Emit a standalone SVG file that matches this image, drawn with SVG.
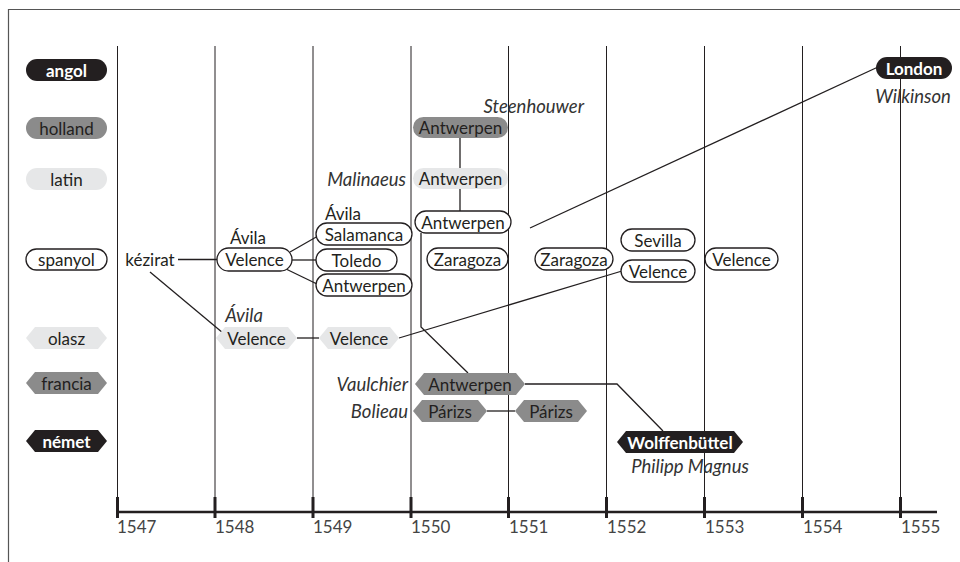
<svg xmlns="http://www.w3.org/2000/svg" width="960" height="562" viewBox="0 0 960 562">
<style>
text{font-family:Lato,"Open Sans","Liberation Sans",sans-serif;font-size:17px;fill:#231f20;dominant-baseline:central;text-anchor:middle}
.it{font-style:italic;fill:#333;font-size:18.5px}
.b{font-weight:bold;fill:#fff}
.yr{text-anchor:start;fill:#444;dominant-baseline:alphabetic}
.blk{fill:#231f20}
.gry{fill:#8b8b8b}
.lgt{fill:#e6e7e8}
.out{fill:#fff;stroke:#231f20;stroke-width:1.3}
.grid{stroke:#231f20;stroke-width:1}
.con{stroke:#231f20;stroke-width:1.3;fill:none}
</style>
<path d="M8.5,562V9.5H960" fill="none" stroke="#555" stroke-width="1.2"/>
<g id="grid">
<g class="grid">
<line x1="117.5" y1="46" x2="117.5" y2="512"/>
<line x1="215" y1="46" x2="215" y2="512"/>
<line x1="313" y1="46" x2="313" y2="512"/>
<line x1="411" y1="46" x2="411" y2="512"/>
<line x1="508.5" y1="46" x2="508.5" y2="512"/>
<line x1="606.5" y1="46" x2="606.5" y2="512"/>
<line x1="704.5" y1="46" x2="704.5" y2="512"/>
<line x1="802.5" y1="46" x2="802.5" y2="512"/>
<line x1="900.5" y1="46" x2="900.5" y2="512"/>
</g>
<line x1="116" y1="512" x2="937" y2="512" stroke="#231f20" stroke-width="2.5"/>
<g stroke="#231f20" stroke-width="3">
<line x1="117.5" y1="497" x2="117.5" y2="518"/>
<line x1="215" y1="497" x2="215" y2="518"/>
<line x1="313" y1="497" x2="313" y2="518"/>
<line x1="411" y1="497" x2="411" y2="518"/>
<line x1="508.5" y1="497" x2="508.5" y2="518"/>
<line x1="606.5" y1="497" x2="606.5" y2="518"/>
<line x1="704.5" y1="497" x2="704.5" y2="518"/>
<line x1="802.5" y1="497" x2="802.5" y2="518"/>
<line x1="900.5" y1="497" x2="900.5" y2="518"/>
</g>
<text class="yr" x="117" y="533">1547</text>
<text class="yr" x="215" y="533">1548</text>
<text class="yr" x="313" y="533">1549</text>
<text class="yr" x="411" y="533">1550</text>
<text class="yr" x="509" y="533">1551</text>
<text class="yr" x="607" y="533">1552</text>
<text class="yr" x="705" y="533">1553</text>
<text class="yr" x="803" y="533">1554</text>
<text class="yr" x="901" y="533">1555</text>
</g>
<g id="connectors" class="con">
<line x1="178" y1="259.5" x2="217" y2="259.5"/>
<line x1="150" y1="272" x2="223" y2="333"/>
<line x1="290" y1="252" x2="318" y2="236"/>
<line x1="292" y1="260" x2="316" y2="260"/>
<line x1="286" y1="269" x2="317" y2="284"/>
<line x1="297" y1="338" x2="319" y2="338"/>
<line x1="399" y1="338" x2="622" y2="271"/>
<line x1="460" y1="138" x2="460" y2="168"/>
<line x1="460" y1="189" x2="460" y2="211"/>
<polyline points="421,233 421,327 468,373"/>
<line x1="530" y1="228" x2="878" y2="67"/>
<line x1="487" y1="411" x2="515" y2="411"/>
<polyline points="525,384 617,384 663,431"/>
</g>
<g id="legend-angol"><rect class="blk" x="26" y="59" width="81" height="22" rx="11"/><text class="b" x="66.5" y="70">angol</text></g>
<g id="legend-holland"><rect class="gry" x="26" y="117" width="81" height="22" rx="11"/><text x="66.5" y="128">holland</text></g>
<g id="legend-latin"><rect class="lgt" x="26" y="168" width="81" height="22" rx="11"/><text x="66.5" y="179">latin</text></g>
<g id="legend-spanyol"><rect class="out" x="26" y="249" width="81" height="21" rx="10.5"/><text x="66.5" y="259.5">spanyol</text></g>
<g id="legend-olasz"><polygon class="lgt" points="26,338 35,327 98,327 107,338 98,349 35,349"/><text x="66.5" y="338">olasz</text></g>
<g id="legend-francia"><polygon class="gry" points="26,383 35,372 98,372 107,383 98,394 35,394"/><text x="66.5" y="383">francia</text></g>
<g id="legend-nemet"><polygon class="blk" points="26,441 35,430 98,430 107,441 98,452 35,452"/><text class="b" x="66.5" y="441">német</text></g>

<g id="kezirat"><text x="150" y="259.5">kézirat</text></g>
<g id="velence-sp-1548"><rect class="out" x="217" y="248" width="75" height="23" rx="11.5"/><text x="254.5" y="259.5">Velence</text><text x="248" y="237">Ávila</text></g>
<g id="salamanca"><rect class="out" x="316" y="223" width="96" height="22" rx="11"/><text x="364" y="234">Salamanca</text><text x="343" y="213">Ávila</text></g>
<g id="toledo"><rect class="out" x="316" y="249" width="81" height="22" rx="11"/><text x="356.5" y="260">Toledo</text></g>
<g id="antwerpen-sp-1549"><rect class="out" x="316" y="274" width="96" height="22" rx="11"/><text x="364" y="285">Antwerpen</text></g>
<g id="antwerpen-holland"><rect class="gry" x="413" y="117" width="95" height="21" rx="10.5"/><text x="460.5" y="127.5">Antwerpen</text><text class="it" x="584" y="106" style="text-anchor:end">Steenhouwer</text></g>
<g id="antwerpen-latin"><rect class="lgt" x="413" y="168" width="95" height="21" rx="10.5"/><text x="460.5" y="178.5">Antwerpen</text><text class="it" x="406" y="179" style="text-anchor:end">Malinaeus</text></g>
<g id="antwerpen-sp-1550"><rect class="out" x="415" y="211" width="96" height="22" rx="11"/><text x="463" y="222">Antwerpen</text></g>
<g id="zaragoza-1550"><rect class="out" x="427" y="248" width="81" height="22" rx="11"/><text x="467.5" y="259">Zaragoza</text></g>
<g id="zaragoza-1551"><rect class="out" x="535" y="248" width="78" height="22" rx="11"/><text x="574" y="259">Zaragoza</text></g>
<g id="sevilla"><rect class="out" x="621" y="229" width="74" height="22" rx="11"/><text x="658" y="240">Sevilla</text></g>
<g id="velence-sp-1552"><rect class="out" x="621" y="260" width="74" height="22" rx="11"/><text x="658" y="271">Velence</text></g>
<g id="velence-sp-1553"><rect class="out" x="705" y="248" width="73" height="22" rx="11"/><text x="741.5" y="259">Velence</text></g>
<g id="london"><rect class="blk" x="876" y="57" width="76" height="22" rx="11"/><text class="b" x="914" y="68">London</text><text class="it" x="913" y="96">Wilkinson</text></g>
<g id="velence-ol-1548"><polygon class="lgt" points="216,338 225,327 288,327 297,338 288,349 225,349"/><text x="256.5" y="338">Velence</text><text class="it" x="244" y="315">Ávila</text></g>
<g id="velence-ol-1549"><polygon class="lgt" points="319,338 328,327 390,327 399,338 390,349 328,349"/><text x="359" y="338">Velence</text></g>
<g id="antwerpen-fr"><polygon class="gry" points="415,384 424,373 516,373 525,384 516,395 424,395"/><text x="470" y="384">Antwerpen</text><text class="it" x="408" y="384" style="text-anchor:end">Vaulchier</text></g>
<g id="parizs-1"><polygon class="gry" points="413,411 422,400 478,400 487,411 478,422 422,422"/><text x="450" y="411">Párizs</text><text class="it" x="408" y="411" style="text-anchor:end">Bolieau</text></g>
<g id="parizs-2"><polygon class="gry" points="515,411 524,400 578,400 587,411 578,422 524,422"/><text x="551" y="411">Párizs</text></g>
<g id="wolffenbuttel"><polygon class="blk" points="617,442 626,431 734,431 743,442 734,453 626,453"/><text class="b" x="680" y="442">Wolffenbüttel</text><text class="it" x="690" y="466">Philipp Magnus</text></g>
</svg>
